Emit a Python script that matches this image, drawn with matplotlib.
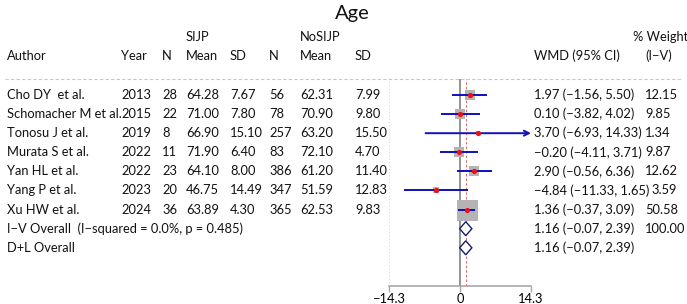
import matplotlib
matplotlib.use("Agg")
import matplotlib.pyplot as plt
import matplotlib.transforms as mtransforms
import numpy as np

plt.rcParams['font.family'] = ['Lato', 'DejaVu Sans']

# study data
authors = ["Cho DY  et al.", "Schomacher M et al.", "Tonosu J et al.", "Murata S et al.",
           "Yan HL et al.", "Yang P et al.", "Xu HW et al."]
years = [2013, 2015, 2019, 2022, 2022, 2023, 2024]
n_sijp = [28, 22, 8, 11, 23, 20, 36]
mean_sijp = [64.28, 71.00, 66.90, 71.90, 64.10, 46.75, 63.89]
sd_sijp = [7.67, 7.80, 15.10, 6.40, 8.00, 14.49, 4.30]
n_no = [56, 78, 257, 83, 386, 347, 365]
mean_no = [62.31, 70.90, 63.20, 72.10, 61.20, 51.59, 62.53]
sd_no = [7.99, 9.80, 15.50, 4.70, 11.40, 12.83, 9.83]
wmd = [1.97, 0.10, 3.70, -0.20, 2.90, -4.84, 1.36]
ci_lo = [-1.56, -3.82, -6.93, -4.11, -0.56, -11.33, -0.37]
ci_hi = [5.50, 4.02, 14.33, 3.71, 6.36, 1.65, 3.09]
weight = [12.15, 9.85, 1.34, 9.87, 12.62, 3.59, 50.58]

# pooled
pooled_labels = ["I\u2212V Overall  (I\u2212squared = 0.0%, p = 0.485)", "D+L Overall"]
pooled_est = [1.16, 1.16]
pooled_lo = [-0.07, -0.07]
pooled_hi = [2.39, 2.39]
pooled_weight = ["100.00", ""]

xlim = 14.3
W, H = 687, 304


def fmt(v):
    return f"{v:.2f}".replace("-", "\u2212")


fig = plt.figure(figsize=(W / 100, H / 100), dpi=100)

# forest axes: rows at pixel 95 + 19.1*i, axes spans pixel y 79..286
row_h = 19.1
top_px, bot_px = 79, 286
ax = fig.add_axes([389 / W, 1 - bot_px / H, 142 / W, (bot_px - top_px) / H])
ax.set_xlim(-xlim, xlim)
ax.set_ylim((bot_px - 95) / row_h, (top_px - 95) / row_h)
ax.patch.set_alpha(0)
for s in ["top", "left", "right"]:
    ax.spines[s].set_visible(False)
ax.spines["bottom"].set_color("#a8a8a8")
ax.spines["bottom"].set_linewidth(1.2)
ax.set_yticks([])
ax.set_xticks([-xlim, 0, xlim])
ax.set_xticklabels(["\u221214.3", "0", "14.3"], fontsize=9.3)
ax.tick_params(axis="x", length=4, width=1, color="#a8a8a8", pad=1)

ax.axvline(-xlim, color="#d8d8d8", lw=0.8, ls=(0, (1, 2)))
ax.axvline(xlim, color="#d8d8d8", lw=0.8, ls=(0, (1, 2)))
ax.axvline(0, color="#808080", lw=1.2, zorder=2)
ax.axvline(pooled_est[0], color="#d85050", lw=0.6, ls=(0, (3, 2.5)), zorder=2)

rows = np.arange(len(authors))
max_w = max(weight)
for i in rows:
    side_pt = 21 * np.sqrt(weight[i] / max_w) * 0.72
    ax.scatter(wmd[i], i, marker="s", s=side_pt ** 2, color="#b4b4b4", lw=0, zorder=3)
    if ci_hi[i] > xlim:
        ax.annotate("", xy=(xlim, i), xytext=(ci_lo[i], i),
                    arrowprops=dict(arrowstyle="->", color="#1010c0", lw=1.4,
                                    shrinkA=0, shrinkB=0, mutation_scale=9), zorder=4)
    else:
        ax.plot([ci_lo[i], ci_hi[i]], [i, i], color="#1010c0", lw=1.4, zorder=4,
                solid_capstyle="butt")
    ax.scatter(wmd[i], i, marker="o", s=14, color="#ee1111", lw=0, zorder=5)

for j in range(len(pooled_est)):
    y = len(authors) + j
    hh = 7 / row_h
    ax.fill([pooled_lo[j], pooled_est[j], pooled_hi[j], pooled_est[j]],
            [y, y - hh, y, y + hh], facecolor="white", edgecolor="#1a1a70", lw=1.0, zorder=4)

# text columns
tr = mtransforms.blended_transform_factory(fig.transFigure, ax.transData)
fs = 9.3
txt = dict(transform=tr, fontsize=fs, va="center", ha="left", color="#111111", clip_on=False)
cols = {"author": 7, "year": 121, "n1": 162, "m1": 186, "s1": 230, "n2": 269,
        "m2": 300, "s2": 355, "wmd": 534, "w": 645}

hdr1, hdr2 = (37 - 95) / row_h, (56 - 95) / row_h
fig.text(352 / W, 1 - 13 / H, "Age", fontsize=14.5, ha="center", va="center", color="#111111")
ax.text(cols["m1"] / W, hdr1, "SIJP", **txt)
ax.text(cols["m2"] / W, hdr1, "NoSIJP", **txt)
ax.text(633 / W, hdr1, "% Weight", **txt)
for key, lab in [("author", "Author"), ("year", "Year"), ("n1", "N"), ("m1", "Mean"),
                 ("s1", "SD"), ("n2", "N"), ("m2", "Mean"), ("s2", "SD"),
                 ("wmd", "WMD (95% CI)"), ("w", "(I\u2212V)")]:
    ax.text(cols[key] / W, hdr2, lab, **txt)

sep_y = (top_px - 95) / row_h
ax.plot([5 / W, 682 / W], [sep_y, sep_y], transform=tr, color="#c8c8c8", lw=0.8,
        ls=(0, (3, 2)), clip_on=False)

renderer = fig.canvas.get_renderer()


def weight_text(y, wmd_artist, label):
    # weight column; pushed right when the CI text runs into it
    end_px = wmd_artist.get_window_extent(renderer).x1
    x_px = max(cols["w"], end_px + 2)
    ax.text(x_px / W, y, label, **txt)


for i in rows:
    ax.text(cols["author"] / W, i, authors[i], **txt)
    ax.text(cols["year"] / W, i, str(years[i]), **txt)
    ax.text(cols["n1"] / W, i, str(n_sijp[i]), **txt)
    ax.text(cols["m1"] / W, i, fmt(mean_sijp[i]), **txt)
    ax.text(cols["s1"] / W, i, fmt(sd_sijp[i]), **txt)
    ax.text(cols["n2"] / W, i, str(n_no[i]), **txt)
    ax.text(cols["m2"] / W, i, fmt(mean_no[i]), **txt)
    ax.text(cols["s2"] / W, i, fmt(sd_no[i]), **txt)
    t = ax.text(cols["wmd"] / W, i, f"{fmt(wmd[i])} ({fmt(ci_lo[i])}, {fmt(ci_hi[i])})", **txt)
    weight_text(i, t, fmt(weight[i]))

for j in range(len(pooled_est)):
    y = len(authors) + j
    ax.text(cols["author"] / W, y, pooled_labels[j], **txt)
    t = ax.text(cols["wmd"] / W, y, f"{fmt(pooled_est[j])} ({fmt(pooled_lo[j])}, {fmt(pooled_hi[j])})", **txt)
    weight_text(y, t, pooled_weight[j])

fig.savefig("out.png", dpi=100)
